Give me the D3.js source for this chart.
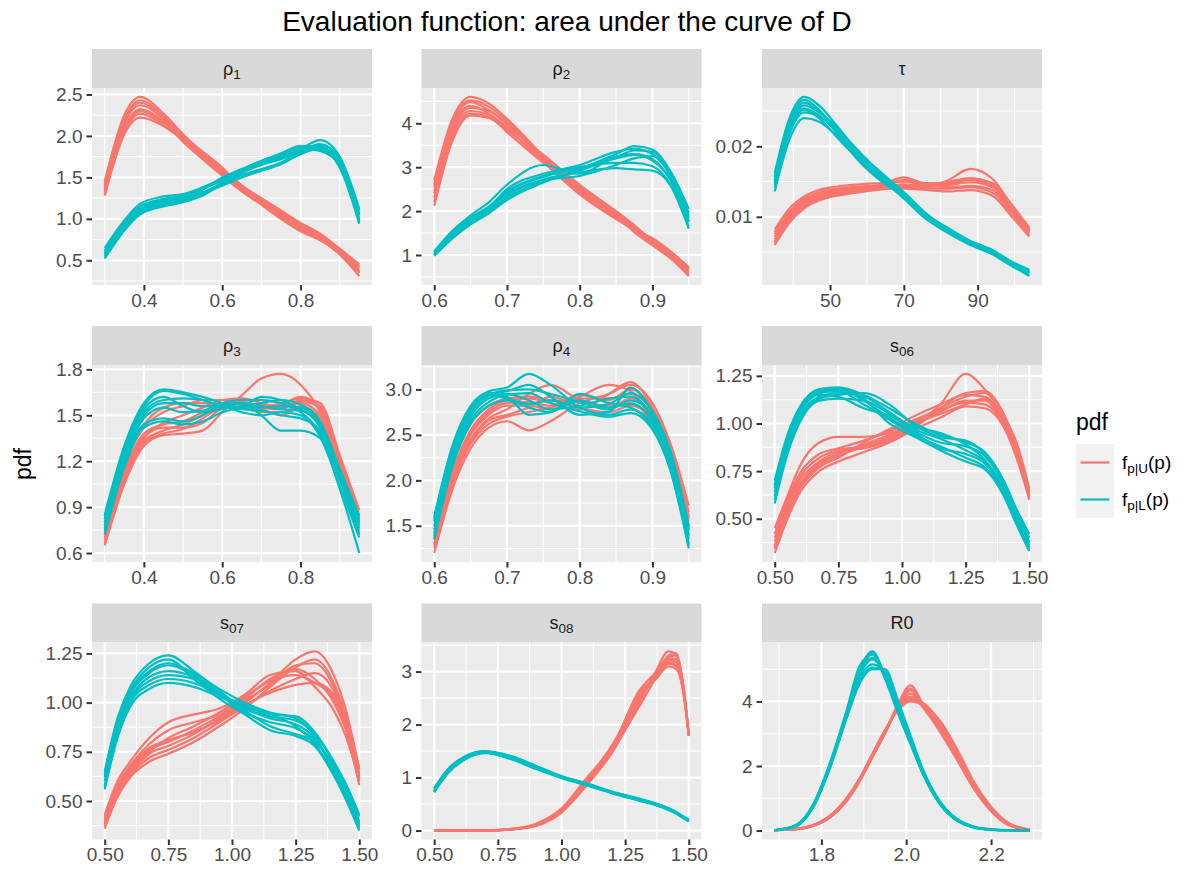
<!DOCTYPE html>
<html>
<head>
<meta charset="utf-8">
<script src="https://cdn.jsdelivr.net/npm/d3@7"></script>
<style>
  body { margin: 0; background: #fff; }
  svg text { font-family: "Liberation Sans", Arial, Helvetica, sans-serif; }
</style>
</head>
<body>
<svg id="chart" width="1196" height="871"></svg>
<script>
// ---------- data ----------
const groupNames = ["p|U", "p|L"];
const groupColors = ["#F8766D", "#00BFC4"];

const stripMain = ["ρ", "ρ", "τ", "ρ", "ρ", "s", "s", "s", "R0"];
const stripSub = ["1", "2", "", "3", "4", "06", "07", "08", ""];

// rho1
const rho1X = [0.30, 0.35, 0.39, 0.45, 0.50, 0.55, 0.60, 0.65, 0.70, 0.75, 0.80, 0.85, 0.90, 0.95];
const rho1U = [
  [1.45, 2.25, 2.47, 2.27, 2.02, 1.80, 1.60, 1.40, 1.22, 1.04, 0.88, 0.76, 0.58, 0.35],
  [1.28, 2.02, 2.22, 2.12, 1.95, 1.78, 1.58, 1.38, 1.23, 1.08, 0.93, 0.80, 0.62, 0.42],
  [1.40, 2.18, 2.40, 2.22, 1.99, 1.75, 1.54, 1.35, 1.18, 1.02, 0.87, 0.75, 0.57, 0.31],
  [1.33, 2.08, 2.30, 2.16, 1.96, 1.79, 1.60, 1.40, 1.25, 1.10, 0.95, 0.82, 0.64, 0.45],
  [1.38, 2.15, 2.37, 2.20, 1.93, 1.72, 1.52, 1.33, 1.17, 1.00, 0.85, 0.74, 0.59, 0.36],
  [1.30, 2.05, 2.27, 2.14, 1.99, 1.81, 1.62, 1.36, 1.20, 1.06, 0.91, 0.79, 0.61, 0.40],
  [1.42, 2.20, 2.43, 2.24, 1.98, 1.76, 1.56, 1.39, 1.24, 1.07, 0.89, 0.77, 0.60, 0.37],
  [1.35, 2.10, 2.32, 2.17, 1.94, 1.74, 1.55, 1.34, 1.19, 1.03, 0.92, 0.81, 0.63, 0.43]
];
const rho1L = [
  [0.65, 0.98, 1.18, 1.27, 1.30, 1.38, 1.48, 1.58, 1.68, 1.75, 1.84, 1.95, 1.75, 1.12],
  [0.52, 0.86, 1.05, 1.15, 1.20, 1.28, 1.42, 1.55, 1.67, 1.77, 1.86, 1.84, 1.62, 0.94],
  [0.60, 0.94, 1.12, 1.22, 1.26, 1.32, 1.43, 1.53, 1.60, 1.68, 1.80, 1.90, 1.72, 1.06],
  [0.55, 0.90, 1.08, 1.18, 1.23, 1.35, 1.50, 1.60, 1.70, 1.78, 1.85, 1.82, 1.65, 0.98],
  [0.62, 0.96, 1.15, 1.24, 1.28, 1.36, 1.46, 1.56, 1.65, 1.72, 1.81, 1.88, 1.70, 1.10],
  [0.54, 0.88, 1.06, 1.16, 1.22, 1.30, 1.44, 1.57, 1.69, 1.79, 1.88, 1.86, 1.66, 0.96],
  [0.59, 0.92, 1.11, 1.21, 1.24, 1.31, 1.40, 1.50, 1.58, 1.66, 1.78, 1.85, 1.69, 1.04],
  [0.57, 0.91, 1.09, 1.19, 1.27, 1.37, 1.49, 1.59, 1.67, 1.74, 1.83, 1.89, 1.67, 1.00]
];
const rho1XTicks = ["0.4", "0.6", "0.8"];
const rho1YTicks = ["0.5", "1.0", "1.5", "2.0", "2.5"];

// rho2
const rho2X = [0.60, 0.625, 0.65, 0.675, 0.70, 0.75, 0.80, 0.85, 0.875, 0.90, 0.925, 0.95];
const rho2U = [
  [2.70, 4.10, 4.60, 4.45, 4.10, 3.25, 2.45, 1.85, 1.55, 1.25, 0.95, 0.55],
  [2.12, 3.60, 4.18, 4.12, 3.85, 3.18, 2.55, 1.95, 1.65, 1.35, 1.05, 0.70],
  [2.55, 4.00, 4.48, 4.30, 4.00, 3.15, 2.42, 1.88, 1.62, 1.28, 0.98, 0.58],
  [2.30, 3.80, 4.28, 4.20, 3.92, 3.28, 2.60, 1.98, 1.60, 1.32, 1.02, 0.66],
  [2.45, 3.95, 4.40, 4.22, 3.88, 3.12, 2.38, 1.82, 1.58, 1.38, 1.08, 0.72],
  [2.60, 4.05, 4.52, 4.38, 4.05, 3.22, 2.48, 1.92, 1.52, 1.22, 0.92, 0.52],
  [2.20, 3.70, 4.22, 4.15, 3.80, 3.10, 2.52, 2.00, 1.68, 1.30, 1.00, 0.64],
  [2.40, 3.88, 4.35, 4.28, 3.98, 3.22, 2.50, 1.90, 1.56, 1.26, 0.97, 0.60]
];
const rho2L = [
  [1.08, 1.55, 1.90, 2.20, 2.60, 3.05, 2.85, 3.25, 3.30, 3.18, 2.70, 1.75],
  [0.98, 1.38, 1.70, 1.95, 2.25, 2.65, 2.95, 3.30, 3.48, 3.40, 2.90, 2.05],
  [1.05, 1.50, 1.85, 2.10, 2.45, 2.80, 3.00, 3.10, 3.10, 3.02, 2.60, 1.65],
  [1.00, 1.42, 1.75, 2.00, 2.35, 2.70, 2.80, 3.05, 3.20, 3.25, 2.85, 1.90],
  [1.06, 1.48, 1.82, 2.08, 2.50, 2.85, 3.05, 3.35, 3.42, 3.30, 2.80, 1.85],
  [1.02, 1.40, 1.72, 1.98, 2.30, 2.68, 2.92, 3.20, 3.28, 3.15, 2.72, 1.78],
  [0.99, 1.44, 1.78, 2.04, 2.38, 2.72, 2.88, 2.98, 2.95, 2.92, 2.58, 1.60],
  [1.04, 1.46, 1.80, 2.06, 2.42, 2.78, 2.98, 3.22, 3.38, 3.35, 2.88, 1.95]
];
const rho2XTicks = ["0.6", "0.7", "0.8", "0.9"];
const rho2YTicks = ["1", "2", "3", "4"];

// tau
const tauX = [35, 39, 43, 47, 52, 58, 64, 70, 76, 82, 88, 94, 99, 104];
const tauU = [
  [0.0082, 0.0112, 0.0129, 0.0138, 0.0143, 0.0146, 0.0148, 0.0150, 0.0146, 0.0150, 0.0155, 0.0146, 0.0114, 0.0080],
  [0.0060, 0.0092, 0.0112, 0.0123, 0.0130, 0.0135, 0.0139, 0.0142, 0.0140, 0.0140, 0.0142, 0.0134, 0.0106, 0.0074],
  [0.0075, 0.0105, 0.0123, 0.0132, 0.0138, 0.0142, 0.0145, 0.0152, 0.0148, 0.0148, 0.0152, 0.0144, 0.0116, 0.0085],
  [0.0065, 0.0096, 0.0116, 0.0127, 0.0133, 0.0138, 0.0142, 0.0144, 0.0143, 0.0145, 0.0149, 0.0142, 0.0112, 0.0077],
  [0.0078, 0.0108, 0.0126, 0.0135, 0.0140, 0.0143, 0.0144, 0.0143, 0.0142, 0.0152, 0.0168, 0.0154, 0.0118, 0.0082],
  [0.0063, 0.0094, 0.0114, 0.0125, 0.0132, 0.0136, 0.0140, 0.0140, 0.0138, 0.0136, 0.0138, 0.0130, 0.0102, 0.0072],
  [0.0072, 0.0102, 0.0121, 0.0131, 0.0135, 0.0140, 0.0146, 0.0156, 0.0146, 0.0142, 0.0144, 0.0138, 0.0110, 0.0079],
  [0.0068, 0.0099, 0.0119, 0.0129, 0.0136, 0.0141, 0.0143, 0.0146, 0.0145, 0.0147, 0.0154, 0.0148, 0.0119, 0.0084]
];
const tauL = [
  [0.0162, 0.0240, 0.0270, 0.0258, 0.0228, 0.0188, 0.0154, 0.0126, 0.0097, 0.0078, 0.0061, 0.0048, 0.0032, 0.0016],
  [0.0136, 0.0210, 0.0240, 0.0235, 0.0215, 0.0184, 0.0158, 0.0134, 0.0104, 0.0082, 0.0065, 0.0052, 0.0036, 0.0024],
  [0.0156, 0.0232, 0.0262, 0.0250, 0.0222, 0.0182, 0.0152, 0.0128, 0.0099, 0.0081, 0.0064, 0.0051, 0.0035, 0.0022],
  [0.0142, 0.0218, 0.0248, 0.0242, 0.0224, 0.0192, 0.0160, 0.0131, 0.0101, 0.0079, 0.0062, 0.0049, 0.0033, 0.0020],
  [0.0158, 0.0236, 0.0266, 0.0252, 0.0218, 0.0178, 0.0150, 0.0129, 0.0103, 0.0084, 0.0066, 0.0053, 0.0037, 0.0025],
  [0.0146, 0.0222, 0.0252, 0.0240, 0.0212, 0.0180, 0.0155, 0.0132, 0.0098, 0.0077, 0.0060, 0.0047, 0.0031, 0.0017],
  [0.0152, 0.0228, 0.0258, 0.0248, 0.0226, 0.0190, 0.0162, 0.0135, 0.0105, 0.0083, 0.0065, 0.0051, 0.0034, 0.0021],
  [0.0149, 0.0224, 0.0254, 0.0244, 0.0219, 0.0186, 0.0157, 0.0130, 0.0100, 0.0080, 0.0063, 0.0050, 0.0034, 0.0022]
];
const tauXTicks = ["50", "70", "90"];
const tauYTicks = ["0.01", "0.02"];

// rho3
const rho3X = [0.30, 0.35, 0.40, 0.45, 0.50, 0.55, 0.60, 0.65, 0.70, 0.75, 0.80, 0.85, 0.90, 0.95];
const rho3U = [
  [0.65, 1.05, 1.30, 1.37, 1.38, 1.40, 1.52, 1.63, 1.74, 1.77, 1.70, 1.52, 1.18, 0.82],
  [0.72, 1.12, 1.36, 1.42, 1.42, 1.45, 1.55, 1.58, 1.55, 1.54, 1.60, 1.56, 1.22, 0.85],
  [0.78, 1.18, 1.42, 1.52, 1.56, 1.60, 1.60, 1.58, 1.57, 1.56, 1.58, 1.50, 1.16, 0.78],
  [0.68, 1.08, 1.33, 1.40, 1.44, 1.50, 1.57, 1.60, 1.60, 1.58, 1.61, 1.58, 1.24, 0.88],
  [0.82, 1.20, 1.44, 1.55, 1.58, 1.58, 1.56, 1.55, 1.52, 1.52, 1.56, 1.48, 1.12, 0.74],
  [0.70, 1.10, 1.35, 1.45, 1.50, 1.55, 1.60, 1.61, 1.58, 1.55, 1.59, 1.55, 1.20, 0.84],
  [0.75, 1.14, 1.38, 1.44, 1.46, 1.52, 1.58, 1.57, 1.54, 1.50, 1.55, 1.46, 1.10, 0.72],
  [0.66, 1.06, 1.32, 1.38, 1.41, 1.48, 1.56, 1.59, 1.56, 1.57, 1.62, 1.54, 1.19, 0.80]
];
const rho3L = [
  [0.82, 1.28, 1.56, 1.66, 1.64, 1.60, 1.56, 1.54, 1.53, 1.50, 1.48, 1.40, 1.10, 0.78],
  [0.74, 1.18, 1.44, 1.48, 1.46, 1.50, 1.57, 1.58, 1.50, 1.40, 1.40, 1.35, 1.02, 0.60],
  [0.85, 1.30, 1.58, 1.67, 1.65, 1.62, 1.58, 1.55, 1.55, 1.56, 1.55, 1.45, 1.14, 0.82],
  [0.76, 1.20, 1.48, 1.55, 1.52, 1.53, 1.58, 1.60, 1.60, 1.58, 1.52, 1.38, 1.08, 0.72],
  [0.80, 1.25, 1.52, 1.60, 1.61, 1.60, 1.55, 1.56, 1.62, 1.60, 1.54, 1.44, 1.12, 0.80],
  [0.72, 1.16, 1.42, 1.46, 1.44, 1.46, 1.52, 1.55, 1.58, 1.60, 1.57, 1.46, 1.15, 0.84],
  [0.78, 1.22, 1.50, 1.58, 1.58, 1.56, 1.56, 1.52, 1.50, 1.52, 1.50, 1.36, 1.04, 0.70],
  [0.84, 1.27, 1.54, 1.62, 1.56, 1.52, 1.54, 1.58, 1.56, 1.54, 1.53, 1.42, 1.09, 0.76]
];
const rho3XTicks = ["0.4", "0.6", "0.8"];
const rho3YTicks = ["0.6", "0.9", "1.2", "1.5", "1.8"];

// rho4
const rho4X = [0.60, 0.625, 0.65, 0.675, 0.70, 0.73, 0.76, 0.80, 0.84, 0.87, 0.90, 0.925, 0.95];
const rho4U = [
  [1.20, 1.90, 2.35, 2.58, 2.65, 2.55, 2.65, 2.85, 2.95, 3.05, 2.85, 2.40, 1.72],
  [1.30, 2.00, 2.45, 2.68, 2.78, 2.95, 3.05, 2.88, 2.80, 2.90, 2.70, 2.25, 1.50],
  [1.45, 2.10, 2.55, 2.78, 2.88, 2.90, 2.85, 2.78, 2.95, 3.08, 2.80, 2.35, 1.60],
  [1.25, 1.95, 2.40, 2.62, 2.70, 2.75, 2.80, 2.92, 3.05, 2.98, 2.65, 2.20, 1.45],
  [1.55, 2.20, 2.62, 2.82, 2.90, 2.92, 2.88, 2.86, 2.82, 2.85, 2.62, 2.15, 1.38],
  [1.35, 2.05, 2.50, 2.72, 2.82, 2.82, 2.78, 2.90, 2.90, 2.95, 2.75, 2.30, 1.55],
  [1.28, 1.98, 2.42, 2.66, 2.72, 2.80, 2.92, 2.80, 2.75, 2.82, 2.68, 2.28, 1.65],
  [1.40, 2.08, 2.52, 2.75, 2.85, 2.86, 2.82, 2.94, 2.88, 3.00, 2.78, 2.32, 1.58]
];
const rho4L = [
  [1.60, 2.38, 2.82, 2.98, 3.02, 3.17, 3.05, 2.80, 2.72, 2.78, 2.62, 2.20, 1.35],
  [1.35, 2.15, 2.62, 2.82, 2.88, 2.80, 2.75, 2.95, 2.85, 2.80, 2.58, 2.12, 1.28],
  [1.50, 2.30, 2.76, 2.95, 2.98, 3.05, 2.92, 2.72, 2.75, 3.02, 2.75, 2.30, 1.45],
  [1.42, 2.22, 2.70, 2.90, 2.95, 2.88, 2.78, 2.82, 2.90, 2.92, 2.70, 2.25, 1.40],
  [1.55, 2.34, 2.80, 2.96, 2.92, 2.72, 2.75, 2.88, 2.80, 2.84, 2.66, 2.18, 1.30],
  [1.38, 2.18, 2.66, 2.86, 2.94, 2.96, 2.85, 2.76, 2.70, 2.74, 2.56, 2.10, 1.25],
  [1.46, 2.26, 2.74, 2.93, 2.99, 3.00, 2.95, 2.86, 2.78, 2.88, 2.72, 2.28, 1.48],
  [1.58, 2.36, 2.78, 2.94, 2.90, 2.84, 2.88, 2.80, 2.84, 2.96, 2.76, 2.32, 1.50]
];
const rho4XTicks = ["0.6", "0.7", "0.8", "0.9"];
const rho4YTicks = ["1.5", "2.0", "2.5", "3.0"];

// s06
const s06X = [0.50, 0.55, 0.60, 0.675, 0.75, 0.85, 0.95, 1.05, 1.15, 1.25, 1.325, 1.40, 1.45, 1.50];
const s06U = [
  [0.32, 0.50, 0.64, 0.75, 0.80, 0.85, 0.90, 0.97, 1.03, 1.09, 1.08, 0.98, 0.82, 0.60],
  [0.45, 0.62, 0.78, 0.90, 0.93, 0.93, 0.95, 1.00, 1.10, 1.26, 1.18, 1.04, 0.90, 0.66],
  [0.36, 0.54, 0.68, 0.79, 0.84, 0.89, 0.94, 1.01, 1.08, 1.14, 1.16, 1.03, 0.86, 0.63],
  [0.40, 0.58, 0.72, 0.82, 0.86, 0.88, 0.92, 0.99, 1.06, 1.12, 1.12, 1.00, 0.84, 0.62],
  [0.34, 0.52, 0.66, 0.77, 0.82, 0.90, 0.97, 1.04, 1.10, 1.15, 1.14, 1.02, 0.85, 0.61],
  [0.42, 0.60, 0.74, 0.84, 0.87, 0.91, 0.96, 1.02, 1.07, 1.11, 1.10, 0.99, 0.83, 0.64],
  [0.38, 0.56, 0.70, 0.80, 0.85, 0.87, 0.91, 0.98, 1.08, 1.16, 1.17, 1.05, 0.88, 0.65],
  [0.35, 0.53, 0.67, 0.78, 0.83, 0.88, 0.93, 1.00, 1.05, 1.10, 1.13, 1.01, 0.85, 0.62]
];
const s06L = [
  [0.70, 0.94, 1.09, 1.18, 1.19, 1.15, 1.08, 1.00, 0.94, 0.90, 0.85, 0.70, 0.55, 0.42],
  [0.58, 0.84, 1.01, 1.12, 1.13, 1.12, 1.05, 0.96, 0.90, 0.88, 0.83, 0.68, 0.53, 0.38],
  [0.66, 0.91, 1.07, 1.16, 1.17, 1.10, 1.02, 0.94, 0.88, 0.82, 0.77, 0.63, 0.49, 0.34],
  [0.62, 0.88, 1.04, 1.14, 1.16, 1.14, 1.06, 0.97, 0.92, 0.86, 0.80, 0.65, 0.50, 0.36],
  [0.68, 0.92, 1.08, 1.17, 1.18, 1.13, 1.00, 0.93, 0.86, 0.80, 0.76, 0.62, 0.47, 0.33],
  [0.60, 0.86, 1.03, 1.13, 1.15, 1.16, 1.10, 0.99, 0.93, 0.91, 0.84, 0.69, 0.54, 0.40],
  [0.64, 0.90, 1.06, 1.15, 1.14, 1.08, 1.04, 0.98, 0.95, 0.89, 0.81, 0.66, 0.51, 0.37],
  [0.67, 0.92, 1.06, 1.16, 1.18, 1.12, 1.03, 0.95, 0.87, 0.84, 0.79, 0.64, 0.48, 0.35]
];
const s06XTicks = ["0.50", "0.75", "1.00", "1.25", "1.50"];
const s06YTicks = ["0.50", "0.75", "1.00", "1.25"];

// s07
const s07X = [0.50, 0.55, 0.60, 0.675, 0.75, 0.85, 0.95, 1.05, 1.15, 1.25, 1.325, 1.40, 1.45, 1.50];
const s07U = [
  [0.36, 0.52, 0.62, 0.70, 0.74, 0.80, 0.88, 0.97, 1.08, 1.18, 1.22, 1.10, 0.92, 0.62],
  [0.43, 0.60, 0.70, 0.82, 0.90, 0.94, 0.97, 1.04, 1.14, 1.16, 1.08, 0.96, 0.82, 0.60],
  [0.38, 0.54, 0.64, 0.74, 0.78, 0.84, 0.92, 1.00, 1.10, 1.22, 1.26, 1.14, 0.95, 0.66],
  [0.41, 0.58, 0.68, 0.79, 0.86, 0.90, 0.94, 1.02, 1.12, 1.17, 1.12, 1.00, 0.85, 0.58],
  [0.37, 0.53, 0.63, 0.72, 0.76, 0.82, 0.90, 0.98, 1.06, 1.12, 1.15, 1.06, 0.90, 0.64],
  [0.40, 0.56, 0.66, 0.76, 0.80, 0.86, 0.93, 1.01, 1.09, 1.19, 1.20, 1.08, 0.91, 0.63],
  [0.39, 0.55, 0.65, 0.75, 0.82, 0.88, 0.95, 1.03, 1.11, 1.14, 1.10, 1.02, 0.87, 0.61],
  [0.42, 0.57, 0.67, 0.77, 0.81, 0.85, 0.91, 0.99, 1.05, 1.09, 1.10, 1.04, 0.89, 0.67]
];
const s07L = [
  [0.65, 0.92, 1.08, 1.20, 1.24, 1.16, 1.06, 0.96, 0.88, 0.84, 0.80, 0.68, 0.56, 0.42],
  [0.56, 0.82, 0.98, 1.07, 1.10, 1.08, 1.03, 0.98, 0.94, 0.93, 0.85, 0.70, 0.58, 0.43],
  [0.62, 0.88, 1.04, 1.15, 1.19, 1.14, 1.05, 0.97, 0.92, 0.89, 0.82, 0.66, 0.53, 0.38],
  [0.58, 0.85, 1.01, 1.11, 1.14, 1.12, 1.04, 0.99, 0.94, 0.88, 0.79, 0.64, 0.51, 0.36],
  [0.64, 0.90, 1.06, 1.18, 1.22, 1.12, 1.02, 0.94, 0.86, 0.83, 0.78, 0.63, 0.50, 0.35],
  [0.60, 0.86, 1.02, 1.13, 1.16, 1.13, 1.05, 0.97, 0.93, 0.91, 0.84, 0.69, 0.55, 0.40],
  [0.57, 0.84, 1.00, 1.09, 1.12, 1.10, 1.04, 0.95, 0.90, 0.87, 0.81, 0.67, 0.54, 0.39],
  [0.63, 0.89, 1.05, 1.16, 1.20, 1.15, 1.07, 1.00, 0.95, 0.92, 0.83, 0.65, 0.52, 0.37]
];
const s07XTicks = ["0.50", "0.75", "1.00", "1.25", "1.50"];
const s07YTicks = ["0.50", "0.75", "1.00", "1.25"];

// s08
const s08X = [0.50, 0.55, 0.62, 0.70, 0.80, 0.90, 1.00, 1.10, 1.20, 1.30, 1.37, 1.42, 1.45, 1.48, 1.50];
const s08U = [
  [0, 0, 0, 0.002, 0.020, 0.10, 0.36, 0.90, 1.50, 2.40, 2.95, 3.30, 3.35, 2.65, 1.80],
  [0, 0, 0, 0.003, 0.025, 0.12, 0.40, 0.98, 1.60, 2.55, 2.90, 3.15, 3.10, 2.55, 1.78],
  [0, 0, 0, 0.002, 0.020, 0.09, 0.34, 0.86, 1.48, 2.35, 3.00, 3.38, 3.32, 2.70, 1.82],
  [0, 0, 0, 0.003, 0.030, 0.13, 0.42, 1.00, 1.58, 2.50, 2.85, 3.10, 3.05, 2.58, 1.80],
  [0, 0, 0, 0.002, 0.020, 0.11, 0.38, 0.94, 1.55, 2.60, 2.98, 3.22, 3.18, 2.62, 1.79],
  [0, 0, 0, 0.002, 0.018, 0.09, 0.35, 0.88, 1.52, 2.30, 2.88, 3.28, 3.30, 2.68, 1.81],
  [0, 0, 0, 0.003, 0.028, 0.12, 0.39, 0.96, 1.62, 2.48, 2.92, 3.18, 3.12, 2.60, 1.80],
  [0, 0, 0, 0.002, 0.022, 0.10, 0.37, 0.92, 1.56, 2.42, 2.96, 3.25, 3.24, 2.64, 1.79]
];
const s08L = [
  [0.80, 1.14, 1.40, 1.50, 1.40, 1.22, 1.03, 0.89, 0.73, 0.60, 0.51, 0.42, 0.35, 0.26, 0.21],
  [0.72, 1.06, 1.34, 1.46, 1.36, 1.18, 1.00, 0.86, 0.71, 0.58, 0.49, 0.40, 0.33, 0.24, 0.18],
  [0.78, 1.12, 1.38, 1.49, 1.38, 1.21, 1.02, 0.87, 0.72, 0.60, 0.50, 0.41, 0.34, 0.25, 0.20],
  [0.74, 1.08, 1.36, 1.47, 1.35, 1.16, 0.99, 0.85, 0.70, 0.57, 0.48, 0.39, 0.32, 0.23, 0.17],
  [0.76, 1.10, 1.37, 1.48, 1.39, 1.20, 1.01, 0.88, 0.72, 0.59, 0.51, 0.42, 0.34, 0.25, 0.19],
  [0.73, 1.07, 1.35, 1.47, 1.37, 1.19, 1.00, 0.86, 0.71, 0.58, 0.49, 0.40, 0.33, 0.24, 0.18],
  [0.79, 1.13, 1.39, 1.49, 1.41, 1.22, 1.02, 0.88, 0.73, 0.61, 0.51, 0.42, 0.35, 0.26, 0.20],
  [0.75, 1.09, 1.36, 1.48, 1.38, 1.19, 1.01, 0.87, 0.71, 0.59, 0.50, 0.41, 0.33, 0.24, 0.19]
];
const s08XTicks = ["0.50", "0.75", "1.00", "1.25", "1.50"];
const s08YTicks = ["0", "1", "2", "3"];

// R0
const r0X = [1.69, 1.74, 1.78, 1.82, 1.86, 1.89, 1.92, 1.95, 1.98, 2.01, 2.04, 2.08, 2.12, 2.16, 2.20, 2.24, 2.29];
const r0U = [
  [0.01, 0.04, 0.14, 0.40, 0.92, 1.52, 2.28, 3.05, 3.90, 4.50, 3.90, 3.10, 2.20, 1.30, 0.62, 0.18, 0.02],
  [0.01, 0.05, 0.16, 0.45, 1.00, 1.60, 2.35, 3.10, 3.75, 4.05, 3.95, 3.35, 2.45, 1.45, 0.70, 0.22, 0.03],
  [0.01, 0.04, 0.15, 0.42, 0.94, 1.55, 2.30, 3.02, 3.85, 4.35, 3.82, 3.15, 2.28, 1.35, 0.64, 0.19, 0.02],
  [0.01, 0.05, 0.17, 0.46, 1.02, 1.62, 2.38, 3.12, 3.72, 4.00, 3.88, 3.40, 2.52, 1.50, 0.74, 0.24, 0.03],
  [0.01, 0.04, 0.14, 0.41, 0.93, 1.53, 2.26, 3.00, 3.80, 4.25, 3.80, 3.05, 2.18, 1.28, 0.60, 0.18, 0.02],
  [0.01, 0.04, 0.15, 0.43, 0.96, 1.57, 2.32, 3.08, 3.82, 4.15, 3.90, 3.25, 2.35, 1.40, 0.68, 0.21, 0.03],
  [0.01, 0.05, 0.16, 0.44, 0.98, 1.58, 2.33, 3.06, 3.78, 4.10, 3.85, 3.30, 2.40, 1.42, 0.66, 0.20, 0.03],
  [0.01, 0.04, 0.15, 0.42, 0.95, 1.56, 2.31, 3.04, 3.86, 4.40, 3.86, 3.12, 2.25, 1.33, 0.63, 0.19, 0.02]
];
const r0L = [
  [0.01, 0.16, 0.78, 2.05, 3.70, 4.95, 5.55, 4.80, 3.70, 2.70, 1.72, 0.80, 0.30, 0.09, 0.03, 0.01, 0],
  [0.01, 0.14, 0.72, 1.95, 3.55, 4.60, 5.05, 4.95, 3.95, 2.90, 1.85, 0.88, 0.35, 0.11, 0.03, 0.01, 0],
  [0.01, 0.17, 0.80, 2.10, 3.75, 5.10, 5.45, 4.70, 3.65, 2.68, 1.75, 0.82, 0.31, 0.10, 0.03, 0.01, 0],
  [0.01, 0.13, 0.70, 1.92, 3.50, 4.55, 5.00, 5.00, 4.05, 2.95, 1.88, 0.90, 0.36, 0.12, 0.04, 0.01, 0],
  [0.01, 0.15, 0.76, 2.02, 3.62, 4.80, 5.30, 4.85, 3.82, 2.80, 1.80, 0.84, 0.33, 0.10, 0.03, 0.01, 0],
  [0.01, 0.16, 0.77, 2.00, 3.60, 4.85, 5.50, 4.75, 3.72, 2.75, 1.76, 0.83, 0.32, 0.10, 0.03, 0.01, 0],
  [0.01, 0.14, 0.73, 1.98, 3.58, 4.70, 5.15, 4.90, 3.90, 2.85, 1.82, 0.86, 0.34, 0.11, 0.03, 0.01, 0],
  [0.01, 0.15, 0.74, 2.00, 3.65, 4.90, 5.35, 4.82, 3.78, 2.78, 1.78, 0.85, 0.33, 0.10, 0.03, 0.01, 0]
];
const r0XTicks = ["1.8", "2.0", "2.2"];
const r0YTicks = ["0", "2", "4"];

const facets = [
  { x: rho1X, U: rho1U, L: rho1L, xt: rho1XTicks, yt: rho1YTicks },
  { x: rho2X, U: rho2U, L: rho2L, xt: rho2XTicks, yt: rho2YTicks },
  { x: tauX, U: tauU, L: tauL, xt: tauXTicks, yt: tauYTicks },
  { x: rho3X, U: rho3U, L: rho3L, xt: rho3XTicks, yt: rho3YTicks },
  { x: rho4X, U: rho4U, L: rho4L, xt: rho4XTicks, yt: rho4YTicks },
  { x: s06X, U: s06U, L: s06L, xt: s06XTicks, yt: s06YTicks },
  { x: s07X, U: s07U, L: s07L, xt: s07XTicks, yt: s07YTicks },
  { x: s08X, U: s08U, L: s08L, xt: s08XTicks, yt: s08YTicks },
  { x: r0X, U: r0U, L: r0L, xt: r0XTicks, yt: r0YTicks }
];

// ---------- layout ----------
const colLeft = [92, 421.5, 762];
const rowTop = [49, 326, 603.5];
const panelW = 280, stripH = 39, panelH = 197;
const tickFont = 19, stripFont = 18;

const svg = d3.select("#chart");
const defs = svg.append("defs");

// ggplot style padding: 5% of the data range
function padded(ext) {
  const d = (ext[1] - ext[0]) * 0.05;
  return [ext[0] - d, ext[1] + d];
}
// minor breaks halfway between major ones
function minorBreaks(vals, dom) {
  const step = vals[1] - vals[0];
  const out = [];
  for (let k = -1; k < vals.length; k++) {
    const m = vals[0] + (k + 0.5) * step;
    if (m >= dom[0] && m <= dom[1]) out.push(m);
  }
  return out;
}

facets.forEach(function(f, i) {
  const col = i % 3, row = Math.floor(i / 3);
  const left = colLeft[col];
  const top = rowTop[row] + stripH;

  const allY = f.U.flat().concat(f.L.flat());
  const x = d3.scaleLinear().domain(padded(d3.extent(f.x))).range([0, panelW]);
  const y = d3.scaleLinear().domain(padded(d3.extent(allY))).range([panelH, 0]);

  const xMajor = f.xt.map(Number), yMajor = f.yt.map(Number);

  // strip
  const strip = svg.append("g").attr("transform", `translate(${left},${rowTop[row]})`);
  strip.append("rect").attr("width", panelW).attr("height", stripH).attr("fill", "#D9D9D9");
  const st = strip.append("text")
    .attr("x", panelW / 2).attr("y", stripH / 2 + 6)
    .attr("text-anchor", "middle").attr("fill", "#1A1A1A")
    .style("font-size", stripFont + "px");
  st.append("tspan").text(stripMain[i]);
  if (stripSub[i]) {
    st.append("tspan").attr("dy", 4).style("font-size", (stripFont * 0.75) + "px").text(stripSub[i]);
  }

  // panel
  const g = svg.append("g").attr("transform", `translate(${left},${top})`);
  g.append("rect").attr("width", panelW).attr("height", panelH).attr("fill", "#EBEBEB");

  const grid = g.append("g");
  grid.selectAll(".xmin").data(minorBreaks(xMajor, x.domain())).join("line")
    .attr("x1", d => x(d)).attr("x2", d => x(d)).attr("y1", 0).attr("y2", panelH)
    .attr("stroke", "#fff").attr("stroke-width", 1.1);
  grid.selectAll(".ymin").data(minorBreaks(yMajor, y.domain())).join("line")
    .attr("y1", d => y(d)).attr("y2", d => y(d)).attr("x1", 0).attr("x2", panelW)
    .attr("stroke", "#fff").attr("stroke-width", 1.1);
  grid.selectAll(".xmaj").data(xMajor).join("line")
    .attr("x1", d => x(d)).attr("x2", d => x(d)).attr("y1", 0).attr("y2", panelH)
    .attr("stroke", "#fff").attr("stroke-width", 2.2);
  grid.selectAll(".ymaj").data(yMajor).join("line")
    .attr("y1", d => y(d)).attr("y2", d => y(d)).attr("x1", 0).attr("x2", panelW)
    .attr("stroke", "#fff").attr("stroke-width", 2.2);

  defs.append("clipPath").attr("id", "clip" + i)
    .append("rect").attr("width", panelW).attr("height", panelH);

  const line = d3.line()
    .x((d, j) => x(f.x[j]))
    .y(d => y(d))
    .curve(d3.curveMonotoneX);

  const curves = g.append("g").attr("clip-path", `url(#clip${i})`);
  [f.U, f.L].forEach(function(set, k) {
    curves.append("g").selectAll("path").data(set).join("path")
      .attr("d", line)
      .attr("fill", "none")
      .attr("stroke", groupColors[k])
      .attr("stroke-width", 2.2);
  });

  // axes
  const xAxis = d3.axisBottom(x).tickValues(xMajor).tickFormat((d, k) => f.xt[k])
    .tickSize(5.5).tickPadding(3);
  const yAxis = d3.axisLeft(y).tickValues(yMajor).tickFormat((d, k) => f.yt[k])
    .tickSize(5.5).tickPadding(4);

  [g.append("g").attr("transform", `translate(0,${panelH})`).call(xAxis),
   g.append("g").call(yAxis)].forEach(function(a) {
    a.attr("font-size", tickFont).attr("font-family", null);
    a.select(".domain").remove();
    a.selectAll(".tick line").attr("stroke", "#333333").attr("stroke-width", 2);
    a.selectAll(".tick text").attr("fill", "#4D4D4D");
  });
});

// title
svg.append("text")
  .attr("x", (colLeft[0] + colLeft[2] + panelW) / 2).attr("y", 31)
  .attr("text-anchor", "middle").attr("fill", "#000")
  .style("font-size", "28px")
  .text("Evaluation function: area under the curve of D");

// y axis title
svg.append("text")
  .attr("transform", "translate(31,464) rotate(-90)")
  .attr("text-anchor", "middle").attr("fill", "#000")
  .style("font-size", "23px")
  .text("pdf");

// legend
const leg = svg.append("g").attr("transform", "translate(1076,0)");
leg.append("text").attr("x", 0).attr("y", 430).attr("fill", "#000")
  .style("font-size", "23px").text("pdf");
groupNames.forEach(function(name, k) {
  const cy = 462.5 + k * 37;
  leg.append("rect").attr("x", 0).attr("y", cy - 18.5).attr("width", 38).attr("height", 37)
    .attr("fill", "#F2F2F2");
  leg.append("line").attr("x1", 4.5).attr("x2", 33.5).attr("y1", cy).attr("y2", cy)
    .attr("stroke", groupColors[k]).attr("stroke-width", 2.2);
  const t = leg.append("text").attr("x", 46).attr("y", cy + 6.5).attr("fill", "#000")
    .style("font-size", tickFont + "px");
  t.append("tspan").text("f");
  t.append("tspan").attr("dy", 4).style("font-size", "13.5px").text(name);
  t.append("tspan").attr("dy", -4).text("(p)");
});
</script>
</body>
</html>
